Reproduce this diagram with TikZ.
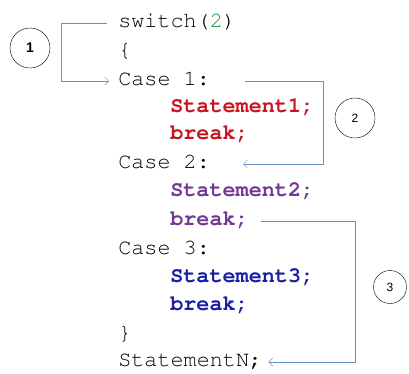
\documentclass[tikz,border=0pt]{standalone}
\usepackage[T1]{fontenc}
\usepackage{fontspec}
\setsansfont{Liberation Sans}
\usetikzlibrary{arrows.meta,positioning}

\definecolor{casered}{RGB}{200,20,30}
\definecolor{casepurple}{RGB}{115,55,150}
\definecolor{caseblue}{RGB}{25,30,165}
\definecolor{casegreen}{RGB}{0,150,70}
\definecolor{jumpblue}{RGB}{105,145,195}

\newcommand{\courier}{\fontencoding{T1}\fontfamily{pcr}\fontsize{21.8}{21.8}\selectfont}

\begin{document}
\begin{tikzpicture}[x=1pt,y=-1pt,>={Straight Barb[length=4pt,width=8pt]},semithick]
  \tikzstyle{code}=[anchor=west,inner sep=0pt,text height=12pt,text depth=3pt,font=\courier]
  \tikzstyle{stmt}=[code,font=\courier\bfseries]
  \tikzstyle{jump}=[->,draw=jumpblue,thin]
  \tikzstyle{tag}=[circle,draw=black,thin,inner sep=0pt,font=\sffamily\fontsize{12}{12}\selectfont]

  \useasboundingbox (0,0) rectangle (409,373);

  \node[code] (sw) at (118,23)  {switch(\textcolor{casegreen}{2})};
  \node[code] (lb) at (118,52)  {\{};
  \node[code] (c1) at (118,81)  {Case 1:};
  \node[stmt,casered] (s1) at (170,108) {Statement1;};
  \node[stmt,casered] (b1) at (170,135) {break;};
  \node[code] (c2) at (118,164) {Case 2:};
  \node[stmt,casepurple] (s2) at (170,192) {Statement2;};
  \node[stmt,casepurple] (b2) at (170,221) {break;};
  \node[code] (c3) at (118,250) {Case 3:};
  \node[stmt,caseblue] (s3) at (170,278) {Statement3;};
  \node[stmt,caseblue] (b3) at (170,306) {break;};
  \node[code] (rb) at (118,335) {\}};
  \node[code] (sn) at (118,362) {StatementN;};

  \node[tag,minimum size=40pt,font=\bfseries\sffamily\fontsize{14}{14}\selectfont] (t1) at (30,48) {1};
  \node[tag,minimum size=40pt] (t2) at (355,118) {2};
  \node[tag,minimum size=33pt] (t3) at (390,287) {3};

  \draw[jump] ([xshift=-11pt]sw.west) -- ++(-46,0) |- ([xshift=-9pt]c1.west);
  \draw[jump] ([xshift=35pt]c1.east) -- ++(78,0) |- ([xshift=33pt]c2.east);
  \draw[jump] ([xshift=12pt]b2.east) -- ++(94,0) |- ([xshift=6pt]sn.east);
\end{tikzpicture}
\end{document}
